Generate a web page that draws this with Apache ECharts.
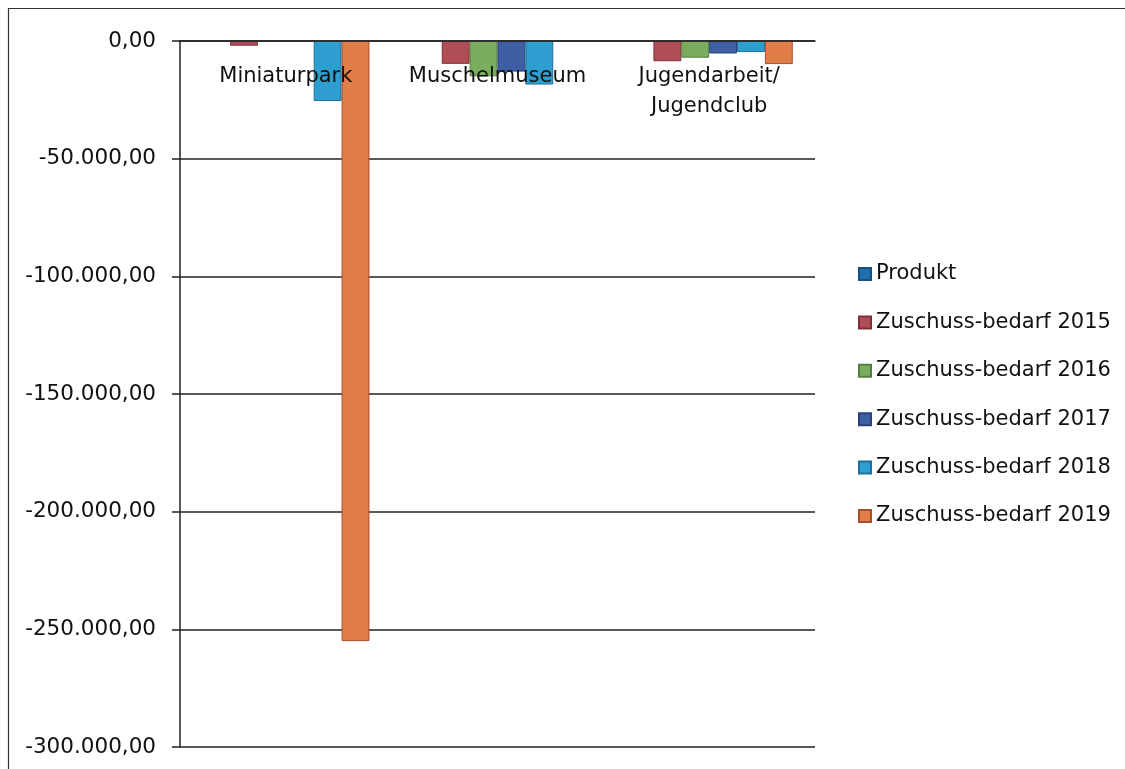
<!DOCTYPE html>
<html><head><meta charset="utf-8">
<script src="https://cdn.jsdelivr.net/npm/echarts@6/dist/echarts.min.js"></script>
<style>html,body{margin:0;padding:0;background:#fff}#c{width:1125px;height:769px}</style>
</head><body><div id="c"></div>
<script>
const categories = ['Miniaturpark', 'Muschelmuseum', 'Jugendarbeit/\nJugendclub'];
const seriesNames = ['Produkt', 'Zuschuss-bedarf 2015', 'Zuschuss-bedarf 2016', 'Zuschuss-bedarf 2017', 'Zuschuss-bedarf 2018', 'Zuschuss-bedarf 2019'];
const produkt = [null, null, null];
const z2015 = [-2000, -9700, -8600];
const z2016 = [null, -15000, -7100];
const z2017 = [null, -13000, -5300];
const z2018 = [-25500, -18500, -4700];
const z2019 = [-255000, null, -9800];
const yMin = -300000, yMax = 0, yStep = 50000;

const colors = ['#1F6FAE', '#B04E58', '#7AAE5E', '#3E5FA6', '#2E9DCF', '#E07D48'];
const borders = ['#17507E', '#7E2E38', '#557F40', '#2A4278', '#1F7099', '#A94E2A'];
const values = [produkt, z2015, z2016, z2017, z2018, z2019];

function fmt(v) {
  const neg = v < 0;
  const s = Math.abs(Math.round(v)).toString().replace(/\B(?=(\d{3})+(?!\d))/g, '.');
  return (neg ? '-' : '') + s + ',00';
}
const FONT = '"DejaVu Sans", sans-serif';
const chart = echarts.init(document.getElementById('c'));
chart.setOption({
  animation: false,
  backgroundColor: '#fff',
  color: colors,
  graphic: [{
    type: 'polyline', shape: { points: [[8.5, 800], [8.5, 8.5], [1130, 8.5]] },
    style: { stroke: '#333', lineWidth: 1.2, fill: null }
  }],
  grid: { left: 180, right: 310, top: 41, bottom: 22, containLabel: false },
  legend: {
    orient: 'vertical', left: 858, top: 262, padding: 0,
    itemWidth: 12, itemHeight: 12, itemGap: 24.4,
    icon: 'rect',
    textStyle: { fontFamily: FONT, fontSize: 21, color: '#111', lineHeight: 24 },
    data: seriesNames
  },
  xAxis: {
    type: 'category', data: categories, position: 'top', z: 10,
    axisLine: { lineStyle: { color: '#222', width: 1.5 } },
    axisTick: { inside: true, length: 8, lineStyle: { color: '#222', width: 1.5 } },
    axisLabel: { inside: true, margin: 21, fontFamily: FONT, fontSize: 21, color: '#111', lineHeight: 30, interval: 0 },
    splitLine: { show: false }
  },
  yAxis: {
    type: 'value', min: yMin, max: yMax, interval: yStep,
    axisLine: { show: true, lineStyle: { color: '#222', width: 1.5 } },
    axisTick: { show: true, length: 8, lineStyle: { color: '#222', width: 1.5 } },
    axisLabel: { formatter: fmt, margin: 24, fontFamily: FONT, fontSize: 21.5, color: '#111' },
    splitLine: { lineStyle: { color: '#222', width: 1.5 } }
  },
  series: seriesNames.map((n, i) => ({
    name: n, type: 'bar', data: values[i],
    barGap: '0%', barCategoryGap: '21%',
    itemStyle: { color: colors[i], borderColor: borders[i], borderWidth: 1 }
  }))
});
</script></body></html>
